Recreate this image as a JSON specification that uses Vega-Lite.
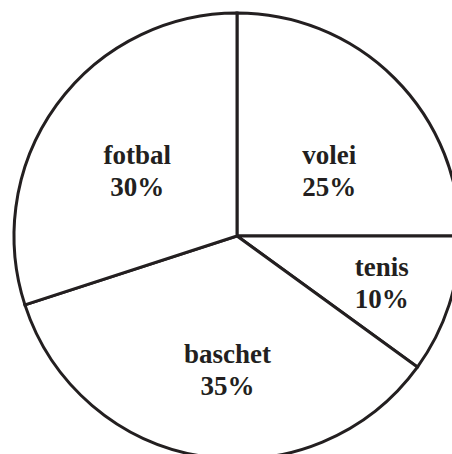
{
  "$schema": "https://vega.github.io/schema/vega-lite/v6.json",
  "width": 474,
  "height": 472,
  "padding": 0,
  "autosize": {"type": "none"},
  "background": "white",
  "config": {
    "view": {"stroke": null},
    "text": {"font": "Liberation Serif", "fontWeight": "bold", "fontSize": 27, "lineHeight": 32, "fill": "#231f20", "align": "center", "baseline": "middle"}
  },
  "data": {
    "values": [
      {"sport": "volei", "value": 25, "order": 1},
      {"sport": "tenis", "value": 10, "order": 2},
      {"sport": "baschet", "value": 35, "order": 3},
      {"sport": "fotbal", "value": 30, "order": 4}
    ]
  },
  "transform": [
    {"calculate": "[datum.sport, datum.value + '%']", "as": "label"}
  ],
  "encoding": {
    "theta": {"field": "value", "type": "quantitative", "stack": true},
    "order": {"field": "order", "type": "quantitative"}
  },
  "layer": [
    {
      "mark": {"type": "arc", "outerRadius": 223, "fill": "white", "stroke": "#231f20", "strokeWidth": 3}
    },
    {
      "mark": {"type": "text", "radius": 122, "dx": 6, "dy": 6},
      "encoding": {
        "text": {"field": "label"},
        "opacity": {"condition": {"test": "datum.sport == 'volei'", "value": 1}, "value": 0}
      }
    },
    {
      "mark": {"type": "text", "radius": 148, "dx": 4, "dy": -14},
      "encoding": {
        "text": {"field": "label"},
        "opacity": {"condition": {"test": "datum.sport == 'tenis'", "value": 1}, "value": 0}
      }
    },
    {
      "mark": {"type": "text", "radius": 119, "dx": 9, "dy": 1},
      "encoding": {
        "text": {"field": "label"},
        "opacity": {"condition": {"test": "datum.sport == 'baschet'", "value": 1}, "value": 0}
      }
    },
    {
      "mark": {"type": "text", "radius": 127, "dx": 3, "dy": -5},
      "encoding": {
        "text": {"field": "label"},
        "opacity": {"condition": {"test": "datum.sport == 'fotbal'", "value": 1}, "value": 0}
      }
    }
  ]
}
